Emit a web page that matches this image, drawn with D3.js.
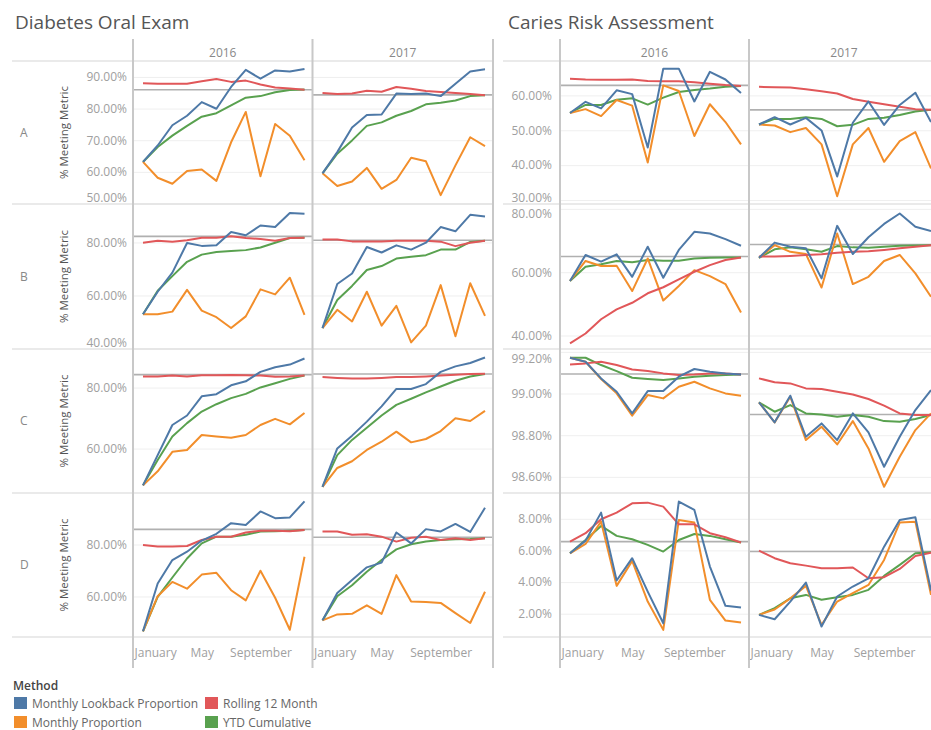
<!DOCTYPE html>
<html><head><meta charset="utf-8">
<script src="https://cdn.jsdelivr.net/npm/d3@7"></script>
<style>
body{margin:0;background:#fff;}
svg{display:block;font-family:"Open Sans","Noto Sans",sans-serif;}
</style>
</head><body>
<svg id="c" width="931" height="730"></svg>
<script>
// ---------- DATA ----------
const months = ["January","February","March","April","May","June","July","August","September","October","November","December"];
const years = ["2016","2017"];
const rowKeys = ["A","B","C","D"];
const methods = ["Monthly Lookback Proportion","Monthly Proportion","Rolling 12 Month","YTD Cumulative"];
const methodColors = ["#4e79a7","#f28e2b","#e15759","#59a14f"];
const xTickMonths = ["January","May","September"];

// Diabetes Oral Exam: each pane = [lookback, monthly, rolling12, ytd]
const dioA2016 = [
  [63.3,68.5,74.9,77.9,82.2,80.1,87.0,92.4,89.6,92.2,91.9,92.7],
  [63.3,58.3,56.4,60.4,60.9,57.3,69.5,79.1,58.8,75.3,71.6,63.8],
  [88.2,88.0,88.0,88.0,88.8,89.5,88.6,89.0,87.8,86.8,86.5,86.1],
  [63.3,68.0,71.6,74.7,77.6,78.7,81.2,83.6,84.1,85.3,86.0,86.2]];
const dioA2017 = [
  [59.7,66.4,74.2,78.1,78.3,84.9,84.8,84.9,84.1,88.0,91.9,92.6],
  [59.7,55.7,57.1,61.4,54.8,57.6,64.6,63.5,52.8,62.2,71.1,68.3],
  [85.1,84.8,84.9,85.8,85.5,87.0,86.4,85.7,85.4,85.1,84.8,84.4],
  [59.7,65.9,70.1,74.7,75.8,77.9,79.4,81.5,82.0,82.7,84.1,84.4]];
const dioB2016 = [
  [53.1,61.6,68.8,80.0,78.9,79.1,84.1,82.9,86.6,86.0,91.3,91.0],
  [53.1,53.1,54.1,62.3,54.5,52.0,47.9,52.3,62.5,60.6,66.9,52.9],
  [80.1,80.8,80.5,81.0,82.0,82.0,82.5,81.9,81.5,80.8,81.9,82.0],
  [53.1,62.0,67.5,72.9,75.6,76.6,77.0,77.3,78.3,80.1,81.9,82.0]];
const dioB2017 = [
  [47.9,64.5,68.5,78.5,76.4,79.1,77.5,80.1,86.0,84.4,90.6,90.0],
  [47.9,54.8,50.4,61.6,48.8,56.3,42.5,48.8,64.1,44.8,64.8,52.5],
  [81.3,81.3,80.6,80.6,80.6,80.8,80.8,80.8,80.5,78.8,80.1,80.8],
  [47.9,58.5,63.8,69.8,71.3,74.1,74.8,75.4,77.5,77.5,80.4,80.8]];
const dioC2016 = [
  [48.1,58.0,67.9,71.0,77.3,78.0,80.9,82.2,85.3,86.8,87.7,89.7],
  [48.1,52.7,59.1,59.7,64.6,64.1,63.7,64.6,67.9,69.9,68.1,71.8],
  [83.8,83.8,84.1,83.8,84.2,84.2,84.3,84.2,84.1,83.7,83.8,84.1],
  [48.1,56.4,64.1,68.5,72.3,74.7,76.7,78.1,80.2,81.6,83.0,84.1]];
const dioC2017 = [
  [47.6,60.2,64.4,69.0,74.0,79.7,79.7,81.3,85.3,87.1,88.2,90.0],
  [47.6,53.8,56.0,59.7,62.4,65.7,62.2,63.3,65.9,70.1,69.2,72.5],
  [83.6,83.3,83.1,83.1,83.3,83.6,83.6,83.8,84.1,84.4,84.6,84.7],
  [47.6,58.0,63.0,67.0,71.0,74.5,76.5,78.6,80.5,82.4,83.8,84.6]];
const dioD2016 = [
  [46.8,65.2,74.2,77.4,81.7,84.3,88.4,87.7,92.9,90.3,90.6,96.8],
  [46.8,60.3,65.8,63.2,68.6,69.3,62.6,58.7,70.1,59.7,47.4,75.5],
  [80.0,79.4,79.4,79.6,81.9,83.2,83.2,84.8,85.5,85.5,85.3,85.8],
  [46.8,60.0,67.5,74.8,80.6,83.2,83.2,83.9,85.2,85.3,85.5,85.8]];
const dioD2017 = [
  [51.0,61.5,66.5,71.4,73.2,84.8,80.6,86.1,85.2,88.1,85.0,94.3],
  [51.0,53.3,53.5,56.8,53.5,68.4,58.3,58.1,57.7,53.8,50.0,62.0],
  [85.2,85.2,83.9,84.1,83.2,81.3,82.8,83.2,81.9,82.6,81.9,82.6],
  [51.0,60.3,64.5,69.7,74.2,78.3,80.3,81.3,81.9,82.2,82.3,82.6]];
const dioRefs = [[86.1,84.5],[82.5,81.0],[84.4,84.6],[86.0,83.0]];
const dioTicks = [[50,60,70,80,90],[40,60,80],[60,80],[60,80]];
const dioDomains = [[50,95.2],[40,94.7],[45.6,92.8],[44.6,100]];

// Caries Risk Assessment
const craA2016 = [
  [55.1,58.3,56.4,61.6,60.5,45.2,67.8,67.8,58.4,66.9,64.7,60.8],
  [55.1,56.2,54.2,58.8,57.2,40.9,63.0,61.4,48.5,57.6,52.5,46.1],
  [64.9,64.7,64.6,64.6,64.7,64.3,64.2,64.2,63.9,63.5,63.1,62.8],
  [55.1,57.4,57.4,58.9,59.3,57.5,59.5,61.1,61.7,62.1,62.6,62.8]];
const craA2017 = [
  [51.8,53.9,51.8,53.7,50.1,36.9,52.3,58.4,51.7,57.4,60.9,52.5],
  [51.8,51.5,49.6,50.8,46.1,31.2,46.1,50.8,41.1,47.0,49.6,39.2],
  [62.6,62.5,62.4,61.9,61.3,60.7,59.1,58.3,57.6,56.9,56.2,56.0],
  [51.8,53.4,53.4,53.9,53.4,51.3,51.7,53.4,53.7,54.5,55.5,56.0]];
const craB2016 = [
  [57.4,65.6,63.5,65.8,58.7,68.2,58.4,67.2,72.9,72.4,70.6,68.5],
  [57.4,63.7,62.1,62.2,54.2,64.5,51.2,55.8,60.8,58.9,56.4,47.4],
  [37.7,40.8,45.3,48.4,50.5,53.5,55.4,57.9,60.3,62.4,64.0,64.8],
  [57.4,61.9,62.7,63.7,63.3,64.0,63.8,63.8,64.5,64.7,64.8,64.8]];
const craB2017 = [
  [64.7,69.5,68.2,67.7,58.2,74.8,65.9,71.2,75.4,78.7,74.5,73.2],
  [64.7,68.7,66.6,65.9,55.3,72.4,56.4,58.7,63.7,65.6,59.8,52.4],
  [65.1,65.1,65.3,65.6,65.8,66.3,66.6,66.8,67.2,67.7,68.2,68.7],
  [64.7,67.4,68.0,67.4,66.6,68.4,68.0,67.9,68.2,68.5,68.6,68.7]];
const craC2016 = [
  [99.174,99.155,99.075,99.011,98.907,99.014,99.014,99.083,99.120,99.107,99.099,99.094],
  [99.174,99.155,99.072,99.003,98.896,98.995,98.979,99.035,99.059,99.027,99.003,98.992],
  [99.142,99.147,99.155,99.139,99.118,99.110,99.099,99.091,99.094,99.099,99.099,99.094],
  [99.174,99.174,99.139,99.110,99.078,99.072,99.067,99.075,99.083,99.088,99.091,99.094]];
const craC2017 = [
  [98.960,98.864,98.992,98.795,98.859,98.779,98.907,98.816,98.651,98.795,98.923,99.019],
  [98.960,98.864,98.987,98.779,98.843,98.758,98.870,98.739,98.555,98.699,98.827,98.907],
  [99.075,99.056,99.051,99.027,99.024,99.011,98.998,98.976,98.944,98.907,98.899,98.899],
  [98.960,98.915,98.947,98.907,98.902,98.891,98.899,98.891,98.870,98.867,98.880,98.899]];
const craD2016 = [
  [5.85,6.65,8.42,4.13,5.54,3.43,1.43,9.12,8.59,5.01,2.53,2.42],
  [5.85,6.44,7.85,3.79,5.37,2.80,1.01,7.96,7.79,2.91,1.60,1.47],
  [6.59,7.12,8.00,8.42,9.01,9.05,8.80,7.68,7.68,7.12,6.86,6.53],
  [5.85,6.69,7.58,6.95,6.74,6.38,5.96,6.69,7.07,6.95,6.74,6.53]];
const craD2017 = [
  [1.96,1.68,2.80,4.00,1.22,3.12,3.75,4.27,6.27,7.96,8.13,3.50],
  [1.96,2.30,3.00,3.79,1.33,2.80,3.33,3.85,5.43,7.79,7.85,3.22],
  [6.02,5.54,5.22,5.07,4.91,4.91,4.95,4.27,4.34,4.86,5.68,5.89],
  [1.96,2.38,3.01,3.22,2.91,3.07,3.22,3.54,4.42,5.12,5.85,5.92]];
const craRefs = [[63.0,56.0],[65.1,68.9],[99.096,98.902],[6.59,5.96]];
const craTicks = [[30,40,50,60],[40,60,80],[98.6,98.8,99.0,99.2],[2,4,6,8]];
const craDomains = [[29,70],[35.9,81.7],[98.525,99.216],[0.56,9.66]];

// ---------- LAYOUT ----------
const svg = d3.select("#c");
const rowTop = [61,204,349,493], rowBot = [204,349,493,637];
const fmtPct = d => d3.format(".2f")(d) + "%";
const drawOrder = [3,1,2,0];

const dashboards = [
  {title:"Diabetes Oral Exam", titleX:15, lineX0:12, lineX1:493, panes:[[133,312.5],[312.5,493]], vlines:[133,312.5,493],
   tickX:127, rowLabels:true,
   data:[[dioA2016,dioA2017],[dioB2016,dioB2017],[dioC2016,dioC2017],[dioD2016,dioD2017]],
   refs:dioRefs, ticks:dioTicks, domains:dioDomains},
  {title:"Caries Risk Assessment", titleX:508, lineX0:503, lineX1:931, panes:[[560,749],[749,939]], vlines:[560,749,939],
   tickX:552, rowLabels:false,
   data:[[craA2016,craA2017],[craB2016,craB2017],[craC2016,craC2017],[craD2016,craD2017]],
   refs:craRefs, ticks:craTicks, domains:craDomains}
];

dashboards.forEach(cfg => {
  const g = svg.append("g");
  g.append("text").attr("x",cfg.titleX).attr("y",29).attr("font-size",19)
    .attr("fill","#555").text(cfg.title);

  cfg.panes.forEach((p,j) => {
    g.append("text").attr("x",(p[0]+p[1])/2).attr("y",57).attr("text-anchor","middle")
      .attr("font-size",12).attr("fill","#888").text(years[j]);
  });

  const gridG = g.append("g"), refG = g.append("g"), lineG = g.append("g"), axisG = g.append("g"), borderG = g.append("g");

  rowKeys.forEach((rk,r) => {
    const y = d3.scaleLinear().domain(cfg.domains[r]).range([rowBot[r], rowTop[r]]);
    cfg.panes.forEach(p => {
      gridG.selectAll(null).data(cfg.ticks[r]).enter().append("line")
        .attr("x1",p[0]).attr("x2",p[1]).attr("y1",d=>y(d)).attr("y2",d=>y(d))
        .attr("stroke","#efefef").attr("stroke-width",1);
    });
    const ax = axisG.append("g").attr("transform",`translate(${cfg.tickX},0)`)
      .call(d3.axisLeft(y).tickValues(cfg.ticks[r]).tickFormat(fmtPct).tickSize(0).tickPadding(0));
    ax.select(".domain").remove();
    ax.selectAll(".tick").attr("transform", d => {
      const yy = Math.max(rowTop[r]+10, Math.min(rowBot[r]-6, y(d)));
      return `translate(0,${yy})`;
    });
    ax.selectAll("text").attr("fill","#a0a0a0").attr("font-size",12)
      .attr("font-family",'"Open Sans","Noto Sans",sans-serif').attr("x",0);
    const mid = (rowTop[r]+rowBot[r])/2;
    if (cfg.rowLabels) {
      axisG.append("text").attr("x",20).attr("y",mid+4).attr("font-size",12).attr("fill","#888").text(rk);
      axisG.append("text").attr("transform",`translate(68,${mid}) rotate(-90)`).attr("text-anchor","middle")
        .attr("font-size",11.5).attr("fill","#555").text("% Meeting Metric");
    }
    cfg.panes.forEach((p,j) => {
      const x = d3.scaleLinear().domain([0,11]).range([p[0]+10, p[1]-8]);
      const ref = cfg.refs[r][j];
      refG.append("line").attr("x1",p[0]).attr("x2",p[1]).attr("y1",y(ref)).attr("y2",y(ref))
        .attr("stroke","#b0b0b0").attr("stroke-width",1.6);
      const line = d3.line().x((d,i)=>x(i)).y(d=>y(d));
      drawOrder.forEach(k => {
        lineG.append("path").datum(cfg.data[r][j][k]).attr("d",line)
          .attr("fill","none").attr("stroke",methodColors[k]).attr("stroke-width",2)
          .attr("stroke-linejoin","round");
      });
    });
  });

  cfg.panes.forEach(p => {
    const x = d3.scaleLinear().domain([0,11]).range([p[0]+10, p[1]-8]);
    const xa = axisG.append("g").attr("transform","translate(0,637)")
      .call(d3.axisBottom(x).tickValues(xTickMonths.map(m=>months.indexOf(m)))
        .tickFormat(i=>months[i]).tickSize(0).tickPadding(11));
    xa.select(".domain").remove();
    xa.selectAll("text").attr("fill","#a0a0a0").attr("font-size",12)
      .attr("font-family",'"Open Sans","Noto Sans",sans-serif');
    xa.selectAll(".tick").filter(d=>d===0).select("text")
      .attr("text-anchor","start").attr("x", p[0]-x(0)+1);
  });

  [61,204,349,493,637].forEach(yy => {
    borderG.append("line").attr("x1",cfg.lineX0).attr("x2",cfg.lineX1).attr("y1",yy).attr("y2",yy)
      .attr("stroke","#d6d6d6").attr("stroke-width",1.2);
  });
  cfg.vlines.forEach(xx => {
    borderG.append("line").attr("x1",xx).attr("x2",xx).attr("y1",39).attr("y2",668)
      .attr("stroke","#c8c8c8").attr("stroke-width",2);
  });
});

// legend
const lg = svg.append("g");
lg.append("text").attr("x",13).attr("y",690).attr("font-size",12).attr("font-weight",600)
  .attr("fill","#444").text("Method");
const legendPos = [[14,697],[14,716],[205,697],[205,716]];
methods.forEach((m,i) => {
  const [lx,ly] = legendPos[i];
  lg.append("rect").attr("x",lx).attr("y",ly).attr("width",13).attr("height",12).attr("fill",methodColors[i]);
  lg.append("text").attr("x",lx+18).attr("y",ly+10.5).attr("font-size",12).attr("fill","#666").text(m);
});
</script>
</body></html>
